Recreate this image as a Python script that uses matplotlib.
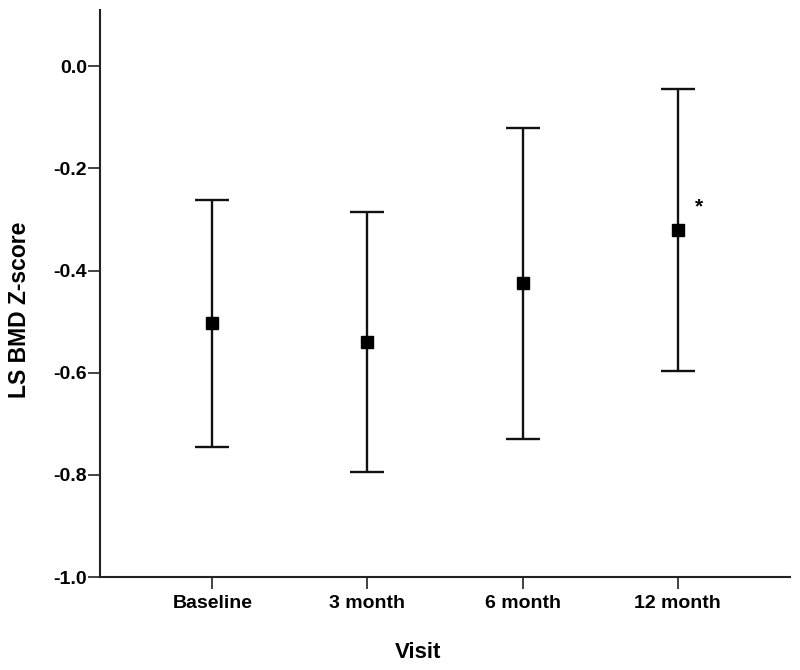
import matplotlib
matplotlib.use('Agg')
import matplotlib.pyplot as plt

VISITS = ['Baseline', '3 month', '6 month', '12 month']
MEANS = [-0.503, -0.540, -0.424, -0.321]
UPPER = [-0.262, -0.286, -0.121, -0.045]
LOWER = [-0.745, -0.795, -0.729, -0.596]
Y_TICKS = [0.0, -0.2, -0.4, -0.6, -0.8, -1.0]

plt.rcParams['font.family'] = ['Liberation Sans', 'DejaVu Sans']
plt.rcParams['font.weight'] = 'bold'

fig = plt.figure(figsize=(8, 6.7), dpi=100)
ax = fig.add_axes([0.125, 0.1388, 0.8625, 0.8463])

x = list(range(1, len(VISITS) + 1))
err_low = [m - l for m, l in zip(MEANS, LOWER)]
err_high = [u - m for m, u in zip(MEANS, UPPER)]
ax.errorbar(x, MEANS, yerr=[err_low, err_high], fmt='s', color='black',
            ecolor='#111111', elinewidth=1.7, capsize=12.5, capthick=1.7,
            markersize=8.5)

# significance marker next to 12 month
ax.text(4.136, -0.276, '*', fontsize=15, fontweight='bold',
        ha='center', va='center')

ax.set_xlim(0.276, 4.724)
ax.set_ylim(-1.0, 0.11)
ax.set_xticks(x)
ax.set_xticklabels(VISITS)
ax.set_yticks(Y_TICKS)
ax.set_yticklabels(['%.1f' % v for v in Y_TICKS])

for side in ['top', 'right']:
    ax.spines[side].set_visible(False)
for side in ['left', 'bottom']:
    ax.spines[side].set_linewidth(1.5)
    ax.spines[side].set_color('#222222')

ax.tick_params(axis='both', direction='out', length=8.5, width=1.2,
               color='#222222', labelsize=14)
ax.tick_params(axis='x', pad=4.5)
ax.tick_params(axis='y', pad=1)

fig.text(418 / 800, 1 - 652 / 670, 'Visit', fontsize=16,
         fontweight='bold', ha='center', va='center')
fig.text(20 / 800, 1 - 310 / 670, 'LS BMD Z-score', fontsize=16.5,
         fontweight='bold', ha='center', va='center', rotation=90)

fig.savefig('out.png', dpi=100)
